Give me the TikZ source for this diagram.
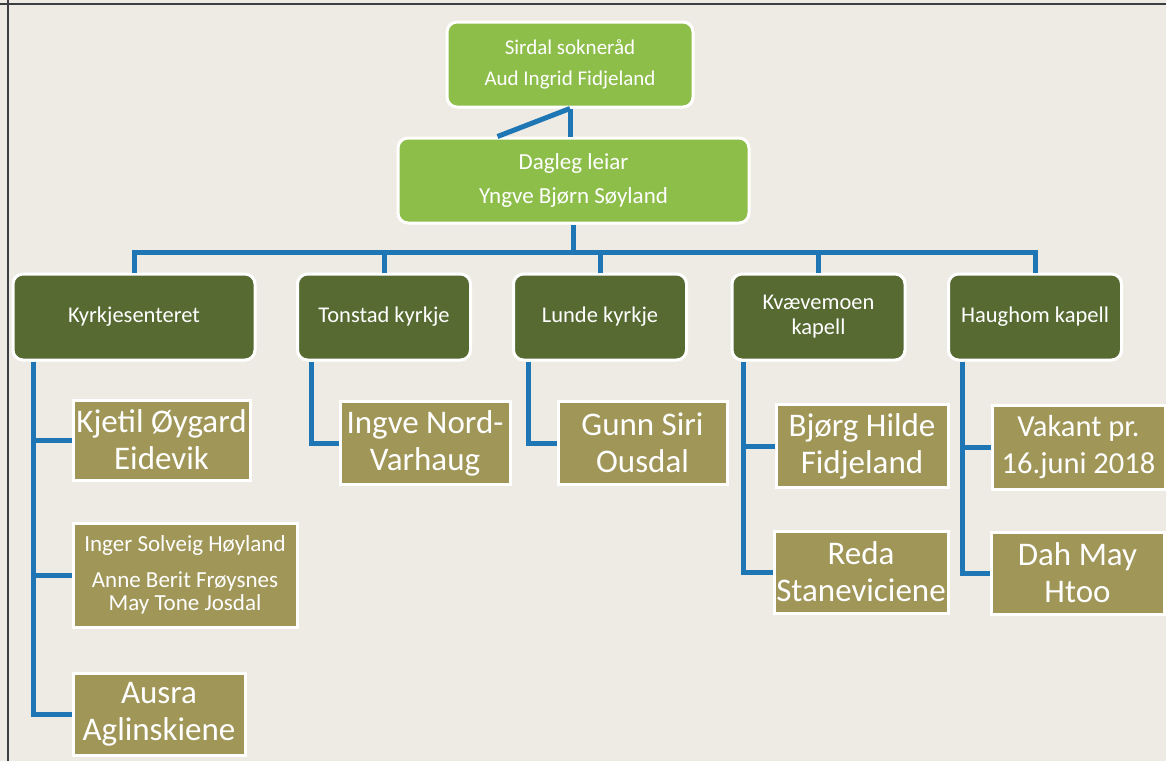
\documentclass[tikz,border=0pt]{standalone}
\usepackage{fontspec}
\setmainfont{Carlito}
\definecolor{paper}{RGB}{237,235,227}
\definecolor{frame}{RGB}{60,62,66}
\definecolor{boardgreen}{RGB}{141,190,74}
\definecolor{unitgreen}{RGB}{86,106,50}
\definecolor{namekhaki}{RGB}{160,150,88}
\definecolor{linkblue}{RGB}{30,118,180}
\tikzset{
  board/.style={draw=white, line width=3pt, fill=boardgreen, rounded corners=10pt,
    text=white, align=center, inner sep=0pt},
  unit/.style={draw=white, line width=3pt, fill=unitgreen, rounded corners=10pt,
    text=white, align=center, inner sep=0pt, minimum width=173pt, minimum height=86pt,
    font=\fontsize{22.5}{25}\selectfont},
  person/.style={draw=white, line width=3pt, fill=namekhaki, text=white, align=center,
    inner sep=0pt, minimum width=172pt, minimum height=82pt,
    font=\fontsize{33}{37}\selectfont},
  link/.style={draw=linkblue, line width=5pt}
}
\begin{document}
\begin{tikzpicture}[x=1pt,y=-1pt]
\fill[paper] (0,0) rectangle (1166,761);
\useasboundingbox (0,0) rectangle (1166,761);
\draw[frame, line width=1.5pt] (0,4) -- (1166,4);
\draw[frame, line width=1.5pt] (8,0) -- (8,761);

\node[board, minimum width=246pt, minimum height=85pt, font=\fontsize{21}{31}\selectfont]
  (sokn) at (570,64.5) {Sirdal sokneråd\\Aud Ingrid Fidjeland};
\node[board, minimum width=351pt, minimum height=85pt, font=\fontsize{23}{34}\selectfont]
  (leiar) at (573.5,180.5) {Dagleg leiar\\Yngve Bjørn Søyland};

\node[unit, minimum width=242pt] (kyrkjes) at (134,317) {Kyrkjesenteret};
\node[unit] (tonstad) at (384,317) {Tonstad kyrkje};
\node[unit] (lunde) at (600,317) {Lunde kyrkje};
\node[unit] (kvaev) at (818.5,317) {Kvævemoen\\kapell};
\node[unit] (haughom) at (1035,317) {Haughom kapell};

\node[person, minimum width=177pt, minimum height=80pt] (kjetil) at (161.5,440) {Kjetil Øygard\\Eidevik};
\node[person, minimum width=224pt, minimum height=104pt, font=\fontsize{23}{23}\selectfont]
  (inger) at (185,575) {Inger Solveig Høyland\\[13pt]Anne Berit Frøysnes\\May Tone Josdal};
\node[person] (ausra) at (159,714) {Ausra\\Aglinskiene};
\node[person, minimum width=170pt, minimum height=83pt] (ingve) at (425,443) {Ingve Nord-\\Varhaug};
\node[person, minimum width=169pt, minimum height=83pt] (gunn) at (642.5,443) {Gunn Siri\\Ousdal};
\node[person, minimum height=83pt] (bjorg) at (862,446) {Bjørg Hilde\\Fidjeland};
\node[person, minimum width=174pt] (reda) at (861,572) {Reda\\Staneviciene};
\node[person, minimum width=173pt, minimum height=84pt, font=\fontsize{30.5}{37}\selectfont]
  (vakant) at (1078.5,447) {Vakant pr.\\16.juni 2018};
\node[person, minimum width=173pt] (dah) at (1077.5,573) {Dah May\\Htoo};

\coordinate (bus) at (0,252);
\draw[link] (sokn.south) -- (sokn.south |- leiar.north);
\draw[link] (sokn.south) -- ([xshift=-76pt]leiar.north);
\draw[link] (leiar.south) -- (leiar.south |- bus);
\draw[link] (kyrkjes.north) -- (kyrkjes.north |- bus) -- (haughom.north |- bus) -- (haughom.north);
\foreach \u in {tonstad,lunde,kvaev}
  \draw[link] (\u.north) -- (\u.north |- bus);

\draw[link] ([xshift=22pt]kyrkjes.south west) |- (kjetil.west);
\draw[link] ([xshift=22pt]kyrkjes.south west) |- (inger.west);
\draw[link] ([xshift=22pt]kyrkjes.south west) |- (ausra.west);
\draw[link] ([xshift=15pt]tonstad.south west) |- (ingve.west);
\draw[link] ([xshift=16pt]lunde.south west) |- (gunn.west);
\draw[link] ([xshift=13pt]kvaev.south west) |- (bjorg.west);
\draw[link] ([xshift=13pt]kvaev.south west) |- (reda.west);
\draw[link] ([xshift=15pt]haughom.south west) |- (vakant.west);
\draw[link] ([xshift=15pt]haughom.south west) |- (dah.west);
\end{tikzpicture}
\end{document}
